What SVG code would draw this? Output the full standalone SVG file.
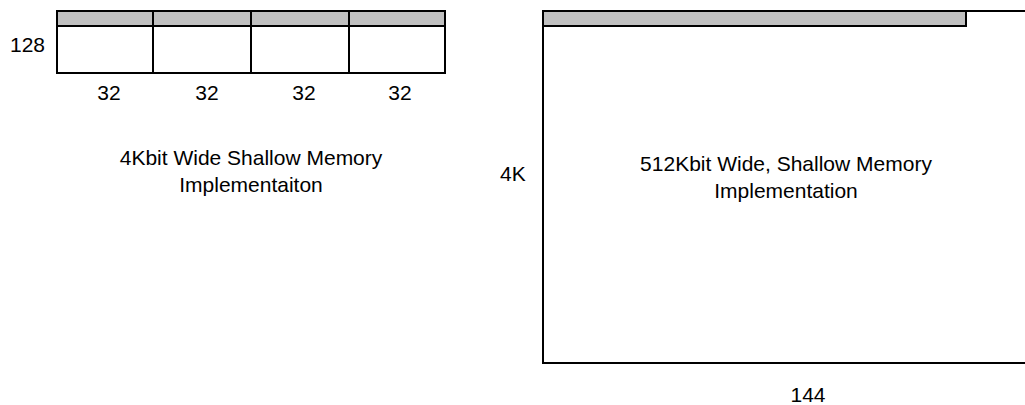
<svg xmlns="http://www.w3.org/2000/svg" width="1025" height="405" viewBox="0 0 1025 405">
<style>
.ln{fill:none;stroke:#000;stroke-width:2}
.bar{fill:#c0c0c0;stroke:#000;stroke-width:2}
.t{font-family:"Liberation Sans",Arial,sans-serif;font-size:21px;fill:#000}
.c{text-anchor:middle}
</style>
<rect width="1025" height="405" fill="#fff"/>
<g id="small-memory">
<rect class="ln" x="57" y="11" width="388" height="62"/>
<rect class="bar" x="57" y="11" width="388" height="15"/>
<line class="ln" x1="153" y1="11" x2="153" y2="73"/>
<line class="ln" x1="251" y1="11" x2="251" y2="73"/>
<line class="ln" x1="349" y1="11" x2="349" y2="73"/>
<text class="t" x="10" y="52">128</text>
<text class="t c" x="109" y="100">32</text>
<text class="t c" x="207" y="100">32</text>
<text class="t c" x="304" y="100">32</text>
<text class="t c" x="400" y="100">32</text>
<text class="t c" x="251" y="165">4Kbit Wide Shallow Memory</text>
<text class="t c" x="251" y="192">Implementaiton</text>
</g>
<g id="large-memory">
<rect class="ln" x="543" y="11" width="500" height="352"/>
<rect class="bar" x="543" y="11" width="423" height="15"/>
<text class="t" x="500" y="181">4K</text>
<text class="t c" x="786" y="171">512Kbit Wide, Shallow Memory</text>
<text class="t c" x="786" y="198">Implementation</text>
<text class="t c" x="808" y="402">144</text>
</g>
</svg>
